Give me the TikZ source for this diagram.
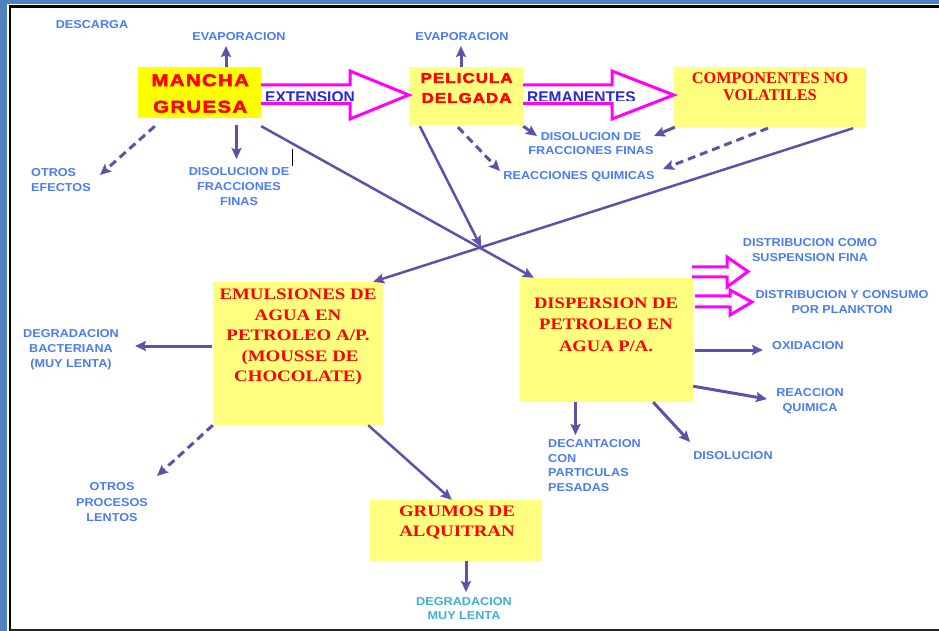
\documentclass[tikz,border=0pt]{standalone}
\usepackage{fontspec}
\usetikzlibrary{arrows.meta}
\newfontfamily\lblfont[FakeStretch=1.1]{Liberation Sans}
\newfontfamily\heavyfont[FakeStretch=1.2,LetterSpace=8,FakeBold=3]{Liberation Sans}
\newfontfamily\plainsans{Liberation Sans}
\newfontfamily\serifA{Liberation Serif}
\newfontfamily\serifB[FakeStretch=1.18]{Liberation Serif}
\newfontfamily\serifC[FakeStretch=1.16]{Liberation Serif}
\definecolor{arr}{RGB}{96,80,168}
\definecolor{lbl}{RGB}{74,124,240}
\definecolor{lblteal}{RGB}{64,176,208}
\definecolor{boxy}{RGB}{255,255,128}
\definecolor{boxbright}{RGB}{255,255,0}
\definecolor{mag}{RGB}{255,0,255}
\definecolor{txtred}{RGB}{255,0,0}
\definecolor{darkblue}{RGB}{40,40,215}
\definecolor{frameblue}{RGB}{79,129,189}
\begin{document}
\begin{tikzpicture}[x=1pt,y=-1pt,
  box/.style={fill=boxy,draw=none,inner sep=0pt},
  lbl/.style={text=lbl,font=\lblfont\bfseries\fontsize{11.5}{15}\selectfont,align=center,inner sep=0pt},
  redheavy/.style={text=txtred,align=center,inner sep=0pt},
  redserif/.style={text=txtred,align=center,inner sep=0pt},
  arw/.style={draw=arr,line width=3pt,-{Stealth[length=11pt,width=10pt,inset=2pt]}},
  longarw/.style={draw=arr,line width=2.5pt,-{Stealth[length=11pt,width=10pt,inset=2pt]}},
  dasharw/.style={arw,dash pattern=on 8pt off 5pt},
  hollow/.style={draw=mag,line width=3pt,line join=miter},
  arrtext/.style={text=darkblue,font=\plainsans\bfseries\fontsize{15.5}{18}\selectfont,inner sep=0pt,anchor=base west}]
\useasboundingbox (0,0) rectangle (939,631);
% frame
\fill[frameblue] (0,0) rectangle (7,631);
\fill[frameblue] (0,0) rectangle (939,4.5);
\draw[black,line width=2.5pt] (10,631) -- (10,6.5) -- (939,6.5);
\draw[black!85,line width=2pt] (10,630) -- (939,630);

% boxes
\node[box,fill=boxbright,minimum width=123pt,minimum height=51pt] (mancha) at (199.5,92.5) {};
\node[box,minimum width=114pt,minimum height=58pt] (pelicula) at (466,96) {};
\node[box,minimum width=192pt,minimum height=60pt] (comp) at (770,97) {};
\node[box,minimum width=170pt,minimum height=143pt] (emul) at (298,353.5) {};
\node[box,minimum width=173pt,minimum height=124pt] (disp) at (606.5,340) {};
\node[box,minimum width=172pt,minimum height=61pt] (grumos) at (456,530.5) {};

% box texts
\node[redheavy,font=\heavyfont\bfseries\fontsize{17}{26.5}\selectfont] (manchaT) at (200.2,93.5) {MANCHA\\GRUESA};
\node[redheavy,font=\heavyfont\bfseries\fontsize{14}{20}\selectfont] (peliculaT) at (466.6,88) {PELICULA\\DELGADA};
\node[redserif,font=\serifA\bfseries\fontsize{16.3}{17.5}\selectfont] (compT) at (770,86.75) {COMPONENTES NO\\VOLATILES};
\node[redserif,font=\serifB\bfseries\fontsize{16}{20.5}\selectfont] (emulT) at (298,337) {EMULSIONES DE\\AGUA EN\\PETROLEO A/P.\\\hspace*{0.25em}(MOUSSE DE\\CHOCOLATE)};
\node[redserif,font=\serifC\bfseries\fontsize{16}{21.5}\selectfont] (dispT) at (606,324.5) {DISPERSION DE\\PETROLEO EN\\AGUA P/A.};
\node[redserif,font=\serifB\bfseries\fontsize{16}{20.5}\selectfont] (grumosT) at (457,522.5) {GRUMOS DE\\ALQUITRAN};

% labels
\node[lbl] (descarga) at (92,24.5) {DESCARGA};
\node[lbl] (evap1) at (239,36.5) {EVAPORACION};
\node[lbl] (evap2) at (462,36.5) {EVAPORACION};
\node[lbl,align=left,anchor=west] (otros) at (31,180.5) {OTROS\\EFECTOS};
\node[lbl] (disolA) at (239,187) {DISOLUCION DE\\FRACCIONES\\FINAS};
\node[lbl,font=\lblfont\bfseries\fontsize{11.5}{14}\selectfont] (disolB) at (591,144) {DISOLUCION DE\\FRACCIONES FINAS};
\node[lbl] (reacq) at (579,177) {REACCIONES QUIMICAS};
\node[lbl] (degbac) at (71,349.5) {DEGRADACION\\BACTERIANA\\(MUY LENTA)};
\node[lbl,font=\lblfont\bfseries\fontsize{11.5}{15.5}\selectfont] (otrosp) at (112,502.5) {OTROS\\PROCESOS\\LENTOS};
\node[lbl,text=lblteal,font=\lblfont\bfseries\fontsize{11.5}{14}\selectfont] (degml) at (464,609) {DEGRADACION\\MUY LENTA};
\node[lbl] (distc) at (810,250.5) {DISTRIBUCION COMO\\SUSPENSION FINA};
\node[lbl] (distp) at (842,302.5) {DISTRIBUCION Y CONSUMO\\POR PLANKTON};
\node[lbl] (oxid) at (808,346) {OXIDACION};
\node[lbl] (reacc) at (810,401.5) {REACCION\\QUIMICA};
\node[lbl,align=left,anchor=west,font=\lblfont\bfseries\fontsize{11.5}{14.5}\selectfont] (decant) at (548,465.5) {DECANTACION\\CON\\PARTICULAS\\PESADAS};
\node[lbl] (disol) at (733,456) {DISOLUCION};

% hollow arrows with their texts
\begin{scope}
\clip (255,80) rectangle (420,100.5);
\node[arrtext] (extT) at (265,102.5) {EXTENSION};
\end{scope}
\begin{scope}
\clip (520,80) rectangle (680,100.5);
\node[arrtext] (remT) at (527,102.5) {REMANENTES};
\end{scope}
\draw[hollow] ([shift={(0,-7.5)}]mancha.east) -- (350,85) -- (350,71) -- ([shift={(0,-1)}]pelicula.west) -- (350,119) -- (350,103.5) -- ([shift={(0,11)}]mancha.east);
\draw[hollow] ([shift={(0,-11)}]pelicula.east) -- (612,85) -- (612,71) -- ([shift={(0,-2)}]comp.west) -- (612,119) -- (612,103.5) -- ([shift={(0,7.5)}]pelicula.east);
\draw[hollow] ([shift={(-1,-11)}]disp.north east) -- (727,267) -- (727,257) -- (748,271.5) -- (727,287) -- (727,277) -- ([shift={(-1,-1)}]disp.north east);
\draw[hollow] ([shift={(2,18)}]disp.north east) -- (730,296) -- (730,290) -- (752,302) -- (730,315) -- (730,307) -- ([shift={(2,29)}]disp.north east);

% free ends
\coordinate (e1) at (226,46);
\coordinate (e2) at (461,46);
\coordinate (o1) at (100,175);
\coordinate (d1) at (236.5,159);
\coordinate (cross) at (481,247);
\coordinate (f1) at (537,136);
\coordinate (r1) at (500,171);
\coordinate (f2) at (654,136);
\coordinate (r2) at (663,169);
\coordinate (b1) at (135,346);
\coordinate (p1) at (157,476);
\coordinate (g1) at (466,592);
\coordinate (dd1) at (575.5,435);
\coordinate (ds1) at (690,442);
\coordinate (ox1) at (763,350);
\coordinate (rq1) at (767,399);

% connectors
\draw[arw] (mancha.north -| e1) -- (e1);
\draw[arw] (pelicula.north -| e2) -- (e2);
\draw[dasharw] ([shift={(17,8)}]mancha.south west) -- (o1);
\draw[arw] ([shift={(37,7)}]mancha.south) -- (d1);
\draw[longarw] ([shift={(0,8)}]mancha.south east) -- ([shift={(14,0)}]disp.north west);
\draw[longarw] ([shift={(11,1)}]pelicula.south west) -- (cross);
\draw[arw] ([shift={(0,1)}]pelicula.south east) -- (f1);
\draw[dasharw] ([shift={(-8,2)}]pelicula.south) -- (r1);
\draw[arw] ([shift={(1,0)}]comp.south west) -- (f2);
\draw[dasharw] ([shift={(-2,1)}]comp.south) -- (r2);
\draw[longarw] ([shift={(-13,1)}]comp.south east) -- ([shift={(-10,0)}]emul.north east);
\draw[arw] ([shift={(-1,-7.5)}]emul.west) -- (b1);
\draw[dasharw] (emul.south west) -- (p1);
\draw[longarw] ([shift={(-15,0)}]emul.south east) -- ([shift={(82,0)}]grumos.north west);
\draw[arw] (grumos.south -| g1) -- (g1);
\draw[arw] (disp.south -| dd1) -- (dd1);
\draw[arw] ([shift={(-40,0)}]disp.south east) -- (ds1);
\draw[arw] ([shift={(2,10)}]disp.east) -- (ox1);
\draw[arw] ([shift={(0,-16)}]disp.south east) -- (rq1);

% cursor mark
\draw[black,line width=1pt] (292.5,149) -- (292.5,166);
\end{tikzpicture}
\end{document}
